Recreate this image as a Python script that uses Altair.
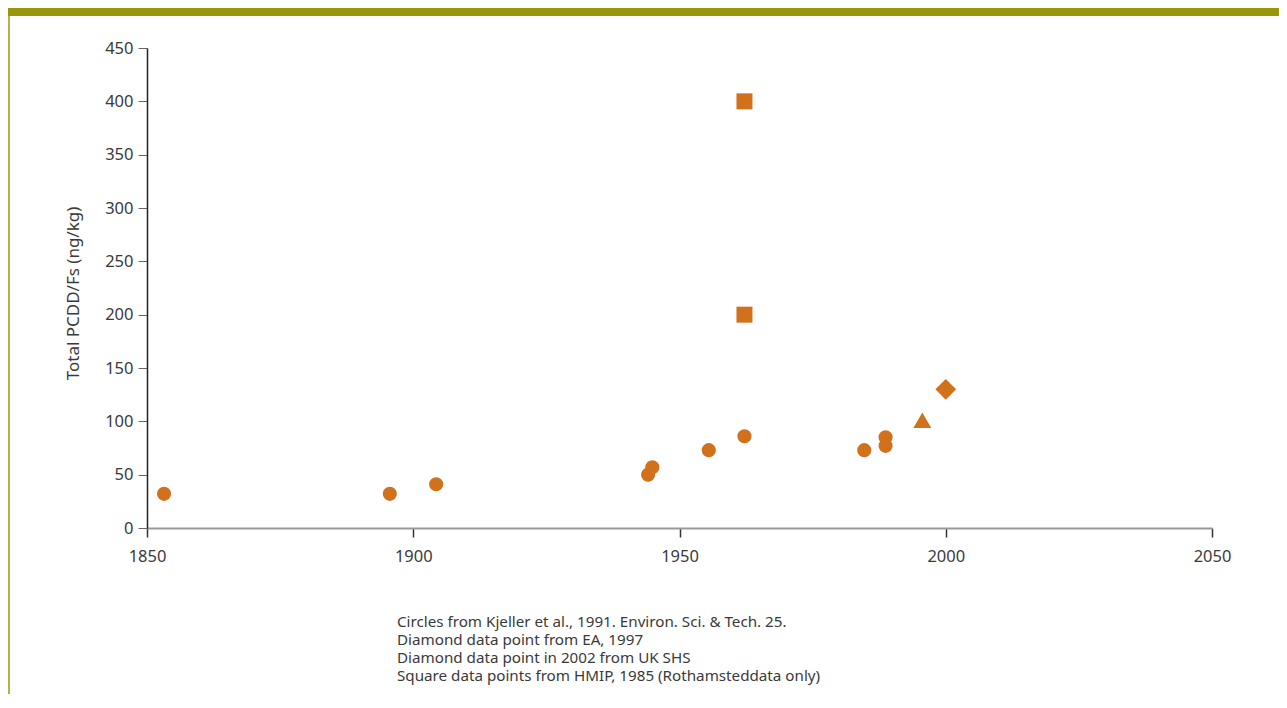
import altair as alt
import pandas as pd

# Data
circle_years = [1853.2, 1895.6, 1904.3, 1944.1, 1944.9, 1955.5, 1962.2, 1984.7, 1988.7, 1988.7]
circle_values = [32, 32, 41, 50, 57, 73, 86, 73, 85, 77]
square_years = [1962.2, 1962.2]
square_values = [400, 200]
triangle_years = [1995.6]
triangle_values = [101]
diamond_years = [2000]
diamond_values = [130]

x_ticks = [1850, 1900, 1950, 2000, 2050]
y_ticks = [0, 50, 100, 150, 200, 250, 300, 350, 400, 450]
y_title = "Total PCDD/Fs (ng/kg)"
notes = [
    "Circles from Kjeller et al., 1991. Environ. Sci. & Tech. 25.",
    "Diamond data point from EA, 1997",
    "Diamond data point in 2002 from UK SHS",
    "Square data points from HMIP, 1985 (Rothamsteddata only)",
]

ORANGE = "#D2711C"
FONT = "Noto Sans"
TXT = "#3a3a3a"
FS = 16.5

W, H = 1065, 480
PL, PT, PR, PB = 139, 40, 67, 166

circles = pd.DataFrame({"year": circle_years, "value": circle_values})
squares = pd.DataFrame({"year": square_years, "value": square_values})
triangles = pd.DataFrame({"year": triangle_years, "value": triangle_values})
diamonds = pd.DataFrame({"year": diamond_years, "value": diamond_values})
single = pd.DataFrame({"k": [0]})

xenc = alt.X(
    "year:Q",
    scale=alt.Scale(domain=[1850, 2050], nice=False, zero=False),
    axis=alt.Axis(
        values=x_ticks, format="d", title=None, grid=False, labelFlush=False,
        domainColor="#999999", domainWidth=2,
        tickColor="#333333", tickWidth=1.5, tickSize=9,
        labelFont=FONT, labelFontSize=FS, labelFontWeight="normal", labelColor=TXT, labelPadding=11,
    ),
)
yenc = alt.Y(
    "value:Q",
    scale=alt.Scale(domain=[0, 450], nice=False),
    axis=alt.Axis(
        values=y_ticks, title=y_title, grid=False,
        domainColor="#222222", domainWidth=1.5,
        tickColor="#666666", tickWidth=1, tickSize=9,
        labelFont=FONT, labelFontSize=FS, labelFontWeight="normal", labelColor=TXT, labelPadding=5,
        titleFont=FONT, titleFontSize=17, titleFontWeight="normal", titleColor=TXT,
        titleAngle=270, titleAlign="center", titleBaseline="middle",
        titleX=-74, titleY=245,
    ),
)

pts_c = alt.Chart(circles).mark_point(shape="circle", filled=True, size=200, opacity=1, color=ORANGE).encode(x=xenc, y=yenc)
pts_s = alt.Chart(squares).mark_point(shape="square", filled=True, size=256, opacity=1, color=ORANGE).encode(x="year:Q", y="value:Q")
pts_t = alt.Chart(triangles).mark_point(shape="triangle-up", filled=True, size=320, opacity=1, color=ORANGE).encode(x="year:Q", y="value:Q")
pts_d = alt.Chart(diamonds).mark_point(shape="diamond", filled=True, size=430, opacity=1, color=ORANGE).encode(x="year:Q", y="value:Q")

band = alt.Chart(single).mark_rect(color="#98960B", clip=False).encode(
    x=alt.value(-PL), x2=alt.value(W + PR), y=alt.value(-PT), y2=alt.value(-PT + 8)
)
leftline = alt.Chart(single).mark_rule(color="#B5B249", strokeWidth=2, clip=False).encode(
    x=alt.value(-PL + 1), y=alt.value(-PT + 8), y2=alt.value(H + PB)
)
note = alt.Chart(single).mark_text(
    align="left", baseline="middle", font=FONT, fontSize=15.2, fontWeight="normal",
    color=TXT, lineHeight=18, clip=False
).encode(x=alt.value(250), y=alt.value(574), text=alt.value(notes))

chart = alt.layer(band, leftline, pts_c, pts_s, pts_t, pts_d, note).properties(
    width=W, height=H,
    autosize=alt.AutoSizeParams(type="none"),
    padding={"left": PL, "top": PT, "right": PR, "bottom": PB},
).configure_view(stroke=None)

chart.save("out.html", embed_options={"renderer": "svg", "actions": False})
